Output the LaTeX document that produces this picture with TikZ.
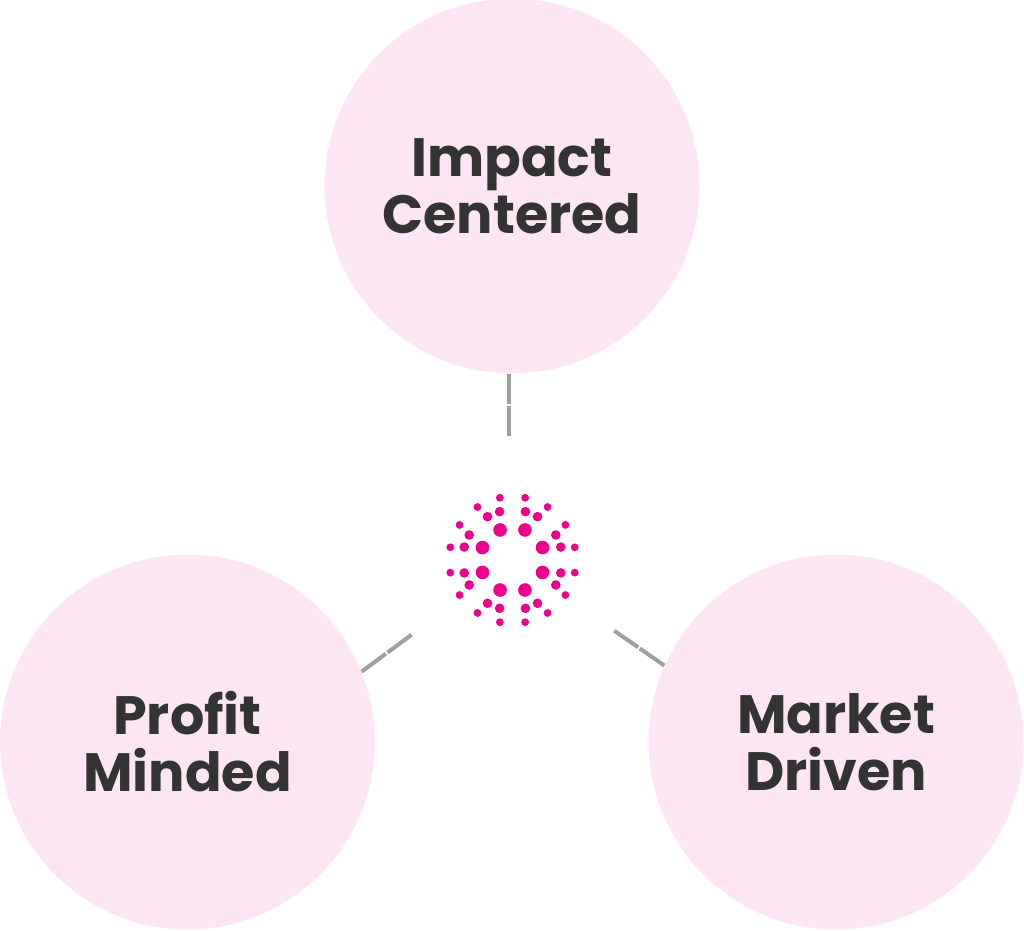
\documentclass[tikz,border=0pt]{standalone}
\usepackage{fontspec}
\setmainfont{Poppins}
\usepackage{tikz}
\definecolor{blush}{RGB}{253,230,243}
\definecolor{ink}{RGB}{51,51,51}
\definecolor{wire}{RGB}{160,160,160}
\definecolor{spark}{RGB}{236,0,140}
\tikzset{
  pillar/.style = {circle, fill = blush, inner sep = 0, minimum size = 187.5pt,
    align = center, text = ink, font = \bfseries\fontsize{27}{28.5}\selectfont},
  link/.style = {draw = wire, line width = 2pt, shorten > = 62pt,
    dash pattern = on 15pt off 1pt on 15pt off 200pt}
}

\begin{document}
\begin{tikzpicture}[x = 0.5pt, y = 0.5pt]
\path [use as bounding box] (0,0) rectangle (1024,931);
\path (512,745) node [pillar] (impact) {Impact\\Centered};
\path (187.5,189) node [pillar] (profit) {Profit\\Minded};
\path (836,189) node [pillar] (market) {Market\\Driven};
\path (512.5,371) coordinate (logo);
\path [link] (impact.269) -- (impact.269 |- logo);
\path [link] (profit.22) -- (logo);
\path [link] (market.156) -- (logo);
\foreach \a in {22.5,67.5,...,337.5} {
  \path [fill = spark] (logo) ++(\a:32.5) circle [radius = 3.4pt];
  \path [fill = spark] (logo) ++(\a-7.5:50) circle [radius = 2.4pt];
  \path [fill = spark] (logo) ++(\a+7.5:50) circle [radius = 2.4pt];
  \path [fill = spark] (logo) ++(\a-11:63.5) circle [radius = 1.95pt];
  \path [fill = spark] (logo) ++(\a+11:63.5) circle [radius = 1.95pt];
}
\end{tikzpicture}
\end{document}
